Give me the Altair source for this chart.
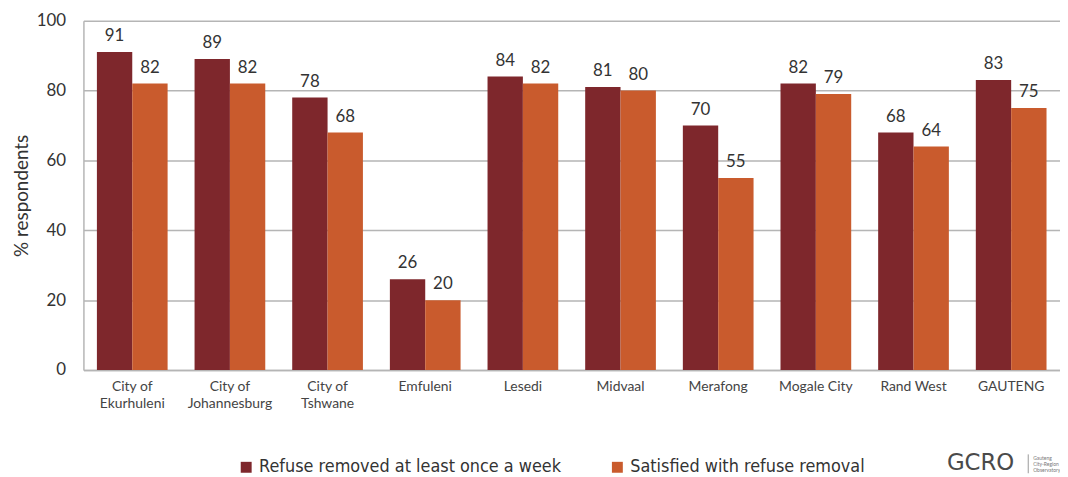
import altair as alt
import pandas as pd

cities = ["City of|Ekurhuleni", "City of|Johannesburg", "City of|Tshwane", "Emfuleni",
          "Lesedi", "Midvaal", "Merafong", "Mogale City", "Rand West", "GAUTENG"]
removed = [91, 89, 78, 26, 84, 81, 70, 82, 68, 83]
satisfied = [82, 82, 68, 20, 82, 80, 55, 79, 64, 75]
series = ["Refuse removed at least once a week", "Satisfied with refuse removal"]
colors = ["#7e272c", "#c95b2d"]
y_ticks = [0, 20, 40, 60, 80, 100]
logo_lines = ["Gauteng", "City-Region", "Observatory"]

rows = []
for c, a, b in zip(cities, removed, satisfied):
    rows.append({"city": c, "series": series[0], "value": a})
    rows.append({"city": c, "series": series[1], "value": b})
df = pd.DataFrame(rows)

W, H = 984, 352
GRID = "#b5b5b5"
LEGEND_FONT = "DejaVu Sans Condensed, Liberation Sans Narrow, Liberation Sans, sans-serif"

x = alt.X("city:N", sort=cities,
          scale=alt.Scale(paddingInner=0.276, paddingOuter=0.138),
          axis=alt.Axis(title=None, labelAngle=0, labelExpr="split(datum.label, '|')",
                        ticks=False, domain=True, domainColor=GRID, domainWidth=1.5,
                        labelFont="Lato", labelFontSize=14, labelColor="#444",
                        labelPadding=10, labelLineHeight=17))
xo = alt.XOffset("series:N", sort=series, scale=alt.Scale(paddingInner=0, paddingOuter=0))
y = alt.Y("value:Q", scale=alt.Scale(domain=[0, 100]),
          axis=alt.Axis(values=y_ticks, title="% respondents", grid=True, gridColor=GRID,
                        gridWidth=1.5, domain=True, domainColor=GRID, domainWidth=1.5,
                        ticks=False, labelFont="Lato", labelFontSize=17, labelColor="#333",
                        labelPadding=18, titleFont="Lato", titleFontSize=19,
                        titleFontWeight="normal", titleColor="#333",
                        titleX=-62, titleY=H / 2, titleAngle=-90, titleBaseline="middle",
                        titleAlign="center"))
color = alt.Color("series:N", sort=series,
                  scale=alt.Scale(domain=series, range=colors),
                  legend=alt.Legend(orient="none", legendX=155, legendY=441,
                                    direction="horizontal", title=None, symbolType="square",
                                    symbolSize=121, symbolStrokeWidth=0,
                                    labelFont=LEGEND_FONT, labelFontSize=18,
                                    labelColor="#333", columnPadding=47, labelOffset=4,
                                    padding=0, labelLimit=400))

base = alt.Chart(df)
bars = base.mark_bar().encode(x=x, xOffset=xo, y=y, color=color)
labels = base.mark_text(dy=-7, baseline="bottom", font="Lato", fontSize=17,
                        color="#333").encode(x=x, xOffset=xo, y=y, text="value:Q")

logo = alt.Chart(pd.DataFrame({"t": ["GCRO"]})).mark_text(
    font="DejaVu Sans", fontSize=23, color="#4a4a4a", baseline="middle", align="center"
).encode(text="t:N", x=alt.value(904), y=alt.value(446))
logo_rule = alt.Chart(pd.DataFrame({"t": [1]})).mark_rule(color="#999", strokeWidth=1).encode(
    x=alt.value(952), y=alt.value(437), y2=alt.value(456))
logo_small = [
    alt.Chart(pd.DataFrame({"t": [s]})).mark_text(
        font="Lato", fontSize=5, color="#777", align="left", baseline="middle"
    ).encode(text="t:N", x=alt.value(957), y=alt.value(441 + 6 * i))
    for i, s in enumerate(logo_lines)
]

chart = alt.layer(bars, labels, logo, logo_rule, *logo_small).properties(
    width=W, height=H,
    autosize=alt.AutoSizeParams(type="none"),
    padding={"left": 76, "top": 11, "right": 0, "bottom": 105},
).configure_view(stroke=None)

chart.save("out.html", embed_options={"renderer": "svg", "actions": False})
